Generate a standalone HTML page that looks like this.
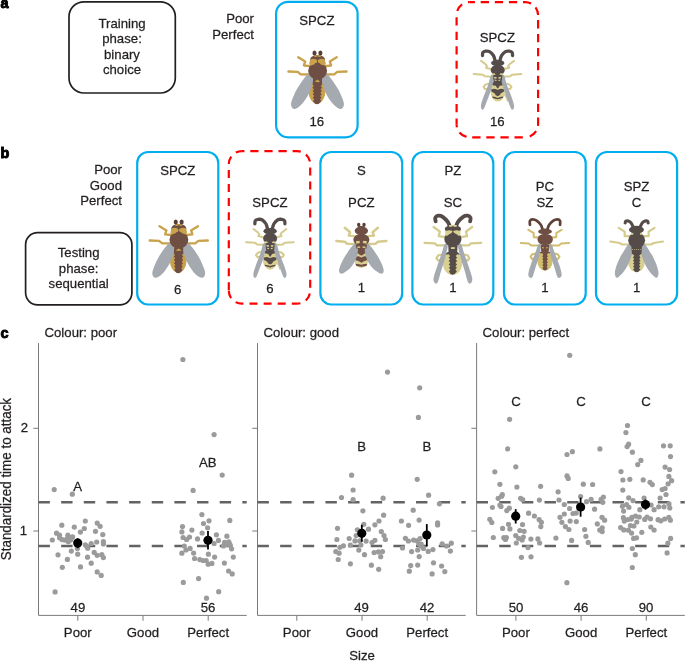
<!DOCTYPE html>
<html><head><meta charset="utf-8"><style>
html,body{margin:0;padding:0;background:#fff;}
svg{display:block;font-family:"Liberation Sans", sans-serif;will-change:transform;}
</style></head><body>
<svg width="685" height="661" viewBox="0 0 685 661">
<text x="0" y="0" transform="translate(0.6,8) scale(1,1.035)" font-size="14.5" text-anchor="start" font-weight="bold" fill="#000" stroke="#000" stroke-width="0.9">a</text>
<text x="0" y="0" transform="translate(0.6,158) scale(1,1.035)" font-size="14.5" text-anchor="start" font-weight="bold" fill="#000" stroke="#000" stroke-width="0.9">b</text>
<text x="0" y="0" transform="translate(0.6,337.8) scale(1,1.035)" font-size="14.5" text-anchor="start" font-weight="bold" fill="#000" stroke="#000" stroke-width="0.9">c</text>
<rect x="69.0" y="1.8" width="106.30000000000001" height="91.2" rx="15" ry="15" fill="none" stroke="#231f20" stroke-width="1.7"/>
<text x="0" y="0" transform="translate(122,27.7) scale(1,1.035)" font-size="13.2" text-anchor="middle" font-weight="normal" fill="#231f20" stroke="#231f20" stroke-width="0.25">Training</text>
<text x="0" y="0" transform="translate(122,43.2) scale(1,1.035)" font-size="13.2" text-anchor="middle" font-weight="normal" fill="#231f20" stroke="#231f20" stroke-width="0.25">phase:</text>
<text x="0" y="0" transform="translate(122,58.7) scale(1,1.035)" font-size="13.2" text-anchor="middle" font-weight="normal" fill="#231f20" stroke="#231f20" stroke-width="0.25">binary</text>
<text x="0" y="0" transform="translate(122,74.2) scale(1,1.035)" font-size="13.2" text-anchor="middle" font-weight="normal" fill="#231f20" stroke="#231f20" stroke-width="0.25">choice</text>
<text x="0" y="0" transform="translate(254,22.7) scale(1,1.035)" font-size="13.2" text-anchor="end" font-weight="normal" fill="#231f20" stroke="#231f20" stroke-width="0.25">Poor</text>
<text x="0" y="0" transform="translate(254,38.6) scale(1,1.035)" font-size="13.2" text-anchor="end" font-weight="normal" fill="#231f20" stroke="#231f20" stroke-width="0.25">Perfect</text>
<rect x="276.1" y="1.8" width="81.5" height="135.5" rx="12" ry="12" fill="none" stroke="#00aeef" stroke-width="2.2"/>
<text x="0" y="0" transform="translate(316.85,24.5) scale(1,1.035)" font-size="13.2" text-anchor="middle" font-weight="normal" fill="#231f20" stroke="#231f20" stroke-width="0.25">SPCZ</text>
<text x="0" y="0" transform="translate(316.85,125.9) scale(1,1.035)" font-size="13.2" text-anchor="middle" font-weight="normal" fill="#231f20" stroke="#231f20" stroke-width="0.25">16</text>
<path d="M 469.6,2.1 L 525.1,2.1 A 13,13 0 0 1 538.1,15.1" fill="none" stroke="#ff0000" stroke-width="2.2" stroke-dasharray="8.3 5.8" stroke-dashoffset="3.0"/>
<path d="M 538.1,15.1 L 538.1,124.30000000000001 A 13,13 0 0 1 525.1,137.3" fill="none" stroke="#ff0000" stroke-width="2.2" stroke-dasharray="8.3 5.63" stroke-dashoffset="8.93"/>
<path d="M 525.1,137.3 L 469.6,137.3 A 13,13 0 0 1 456.6,124.30000000000001" fill="none" stroke="#ff0000" stroke-width="2.2" stroke-dasharray="8.3 5.8" stroke-dashoffset="11.8"/>
<path d="M 456.6,124.30000000000001 L 456.6,15.1 A 13,13 0 0 1 469.6,2.1" fill="none" stroke="#ff0000" stroke-width="2.2" stroke-dasharray="8.2 6.28" stroke-dashoffset="2.48"/>
<text x="0" y="0" transform="translate(497.35,41.5) scale(1,1.035)" font-size="13.2" text-anchor="middle" font-weight="normal" fill="#231f20" stroke="#231f20" stroke-width="0.25">SPCZ</text>
<text x="0" y="0" transform="translate(497.35,125.9) scale(1,1.035)" font-size="13.2" text-anchor="middle" font-weight="normal" fill="#231f20" stroke="#231f20" stroke-width="0.25">16</text>
<text x="0" y="0" transform="translate(122,173.7) scale(1,1.035)" font-size="13.2" text-anchor="end" font-weight="normal" fill="#231f20" stroke="#231f20" stroke-width="0.25">Poor</text>
<text x="0" y="0" transform="translate(122,189.5) scale(1,1.035)" font-size="13.2" text-anchor="end" font-weight="normal" fill="#231f20" stroke="#231f20" stroke-width="0.25">Good</text>
<text x="0" y="0" transform="translate(122,205) scale(1,1.035)" font-size="13.2" text-anchor="end" font-weight="normal" fill="#231f20" stroke="#231f20" stroke-width="0.25">Perfect</text>
<rect x="25.6" y="232.7" width="106.30000000000001" height="72.10000000000002" rx="12" ry="12" fill="none" stroke="#231f20" stroke-width="1.7"/>
<text x="0" y="0" transform="translate(78.6,257.2) scale(1,1.035)" font-size="13.2" text-anchor="middle" font-weight="normal" fill="#231f20" stroke="#231f20" stroke-width="0.25">Testing</text>
<text x="0" y="0" transform="translate(78.6,272.55) scale(1,1.035)" font-size="13.2" text-anchor="middle" font-weight="normal" fill="#231f20" stroke="#231f20" stroke-width="0.25">phase:</text>
<text x="0" y="0" transform="translate(78.6,287.9) scale(1,1.035)" font-size="13.2" text-anchor="middle" font-weight="normal" fill="#231f20" stroke="#231f20" stroke-width="0.25">sequential</text>
<rect x="137.2" y="152.0" width="81.10000000000002" height="152.5" rx="11" ry="11" fill="none" stroke="#00aeef" stroke-width="2.2"/>
<text x="0" y="0" transform="translate(177.75,174.8) scale(1,1.035)" font-size="13.2" text-anchor="middle" font-weight="normal" fill="#231f20" stroke="#231f20" stroke-width="0.25">SPCZ</text>
<text x="0" y="0" transform="translate(177.75,293.5) scale(1,1.035)" font-size="13.2" text-anchor="middle" font-weight="normal" fill="#231f20" stroke="#231f20" stroke-width="0.25">6</text>
<path d="M 241.8,151.1 L 297.2,151.1 A 13,13 0 0 1 310.2,164.1" fill="none" stroke="#ff0000" stroke-width="2.2" stroke-dasharray="8.2 5.9" stroke-dashoffset="5.6"/>
<path d="M 310.2,164.1 L 310.2,290.7 A 13,13 0 0 1 297.2,303.7" fill="none" stroke="#ff0000" stroke-width="2.2" stroke-dasharray="8.0 6.03" stroke-dashoffset="10.73"/>
<path d="M 297.2,303.7 L 241.8,303.7 A 13,13 0 0 1 228.8,290.7" fill="none" stroke="#ff0000" stroke-width="2.2" stroke-dasharray="8.0 6.1" stroke-dashoffset="2.6"/>
<path d="M 228.8,290.7 L 228.8,164.1 A 13,13 0 0 1 241.8,151.1" fill="none" stroke="#ff0000" stroke-width="2.2" stroke-dasharray="8.0 6.03" stroke-dashoffset="13.63"/>
<text x="0" y="0" transform="translate(269.9,207.4) scale(1,1.035)" font-size="13.2" text-anchor="middle" font-weight="normal" fill="#231f20" stroke="#231f20" stroke-width="0.25">SPCZ</text>
<text x="0" y="0" transform="translate(269.9,292.5) scale(1,1.035)" font-size="13.2" text-anchor="middle" font-weight="normal" fill="#231f20" stroke="#231f20" stroke-width="0.25">6</text>
<rect x="320.4" y="152.0" width="81.80000000000001" height="152.5" rx="11" ry="11" fill="none" stroke="#00aeef" stroke-width="2.2"/>
<text x="0" y="0" transform="translate(361.29999999999995,174.8) scale(1,1.035)" font-size="13.2" text-anchor="middle" font-weight="normal" fill="#231f20" stroke="#231f20" stroke-width="0.25">S</text>
<text x="0" y="0" transform="translate(361.29999999999995,207.4) scale(1,1.035)" font-size="13.2" text-anchor="middle" font-weight="normal" fill="#231f20" stroke="#231f20" stroke-width="0.25">PCZ</text>
<text x="0" y="0" transform="translate(361.29999999999995,292.0) scale(1,1.035)" font-size="13.2" text-anchor="middle" font-weight="normal" fill="#231f20" stroke="#231f20" stroke-width="0.25">1</text>
<rect x="412.4" y="152.0" width="80.90000000000003" height="152.5" rx="11" ry="11" fill="none" stroke="#00aeef" stroke-width="2.2"/>
<text x="0" y="0" transform="translate(452.85,174.8) scale(1,1.035)" font-size="13.2" text-anchor="middle" font-weight="normal" fill="#231f20" stroke="#231f20" stroke-width="0.25">PZ</text>
<text x="0" y="0" transform="translate(452.85,207.4) scale(1,1.035)" font-size="13.2" text-anchor="middle" font-weight="normal" fill="#231f20" stroke="#231f20" stroke-width="0.25">SC</text>
<text x="0" y="0" transform="translate(452.85,292.0) scale(1,1.035)" font-size="13.2" text-anchor="middle" font-weight="normal" fill="#231f20" stroke="#231f20" stroke-width="0.25">1</text>
<rect x="504.0" y="152.0" width="81.70000000000005" height="152.5" rx="11" ry="11" fill="none" stroke="#00aeef" stroke-width="2.2"/>
<text x="0" y="0" transform="translate(544.85,191.1) scale(1,1.035)" font-size="13.2" text-anchor="middle" font-weight="normal" fill="#231f20" stroke="#231f20" stroke-width="0.25">PC</text>
<text x="0" y="0" transform="translate(544.85,207.4) scale(1,1.035)" font-size="13.2" text-anchor="middle" font-weight="normal" fill="#231f20" stroke="#231f20" stroke-width="0.25">SZ</text>
<text x="0" y="0" transform="translate(544.85,292.0) scale(1,1.035)" font-size="13.2" text-anchor="middle" font-weight="normal" fill="#231f20" stroke="#231f20" stroke-width="0.25">1</text>
<rect x="596.0" y="152.0" width="81.10000000000002" height="152.5" rx="11" ry="11" fill="none" stroke="#00aeef" stroke-width="2.2"/>
<text x="0" y="0" transform="translate(636.55,191.1) scale(1,1.035)" font-size="13.2" text-anchor="middle" font-weight="normal" fill="#231f20" stroke="#231f20" stroke-width="0.25">SPZ</text>
<text x="0" y="0" transform="translate(636.55,207.4) scale(1,1.035)" font-size="13.2" text-anchor="middle" font-weight="normal" fill="#231f20" stroke="#231f20" stroke-width="0.25">C</text>
<text x="0" y="0" transform="translate(636.55,292.0) scale(1,1.035)" font-size="13.2" text-anchor="middle" font-weight="normal" fill="#231f20" stroke="#231f20" stroke-width="0.25">1</text>
<line x1="38.5" y1="343" x2="38.5" y2="615.4" stroke="#7a7a7a" stroke-width="1"/>
<line x1="38.5" y1="615.4" x2="246.7" y2="615.4" stroke="#7a7a7a" stroke-width="1"/>
<line x1="33.3" y1="531.0" x2="38.5" y2="531.0" stroke="#7a7a7a" stroke-width="1"/>
<line x1="33.3" y1="428.3" x2="38.5" y2="428.3" stroke="#7a7a7a" stroke-width="1"/>
<line x1="77.8" y1="615.4" x2="77.8" y2="620.7" stroke="#7a7a7a" stroke-width="1"/>
<text x="0" y="0" transform="translate(77.8,636.6) scale(1,1.035)" font-size="13.2" text-anchor="middle" font-weight="normal" fill="#231f20" stroke="#231f20" stroke-width="0.25">Poor</text>
<line x1="143.0" y1="615.4" x2="143.0" y2="620.7" stroke="#7a7a7a" stroke-width="1"/>
<text x="0" y="0" transform="translate(143.0,636.6) scale(1,1.035)" font-size="13.2" text-anchor="middle" font-weight="normal" fill="#231f20" stroke="#231f20" stroke-width="0.25">Good</text>
<line x1="208.2" y1="615.4" x2="208.2" y2="620.7" stroke="#7a7a7a" stroke-width="1"/>
<text x="0" y="0" transform="translate(208.2,636.6) scale(1,1.035)" font-size="13.2" text-anchor="middle" font-weight="normal" fill="#231f20" stroke="#231f20" stroke-width="0.25">Perfect</text>
<text x="0" y="0" transform="translate(44.5,336.5) scale(1,1.035)" font-size="13.2" text-anchor="start" font-weight="normal" fill="#231f20" stroke="#231f20" stroke-width="0.25">Colour: poor</text>
<line x1="38.5" y1="502.2" x2="246.7" y2="502.2" stroke="#636363" stroke-width="2.4" stroke-dasharray="11.4 11.25"/>
<line x1="38.5" y1="546.0" x2="246.7" y2="546.0" stroke="#636363" stroke-width="2.4" stroke-dasharray="11.4 11.25"/>
<line x1="257.5" y1="343" x2="257.5" y2="615.4" stroke="#7a7a7a" stroke-width="1"/>
<line x1="257.5" y1="615.4" x2="465.7" y2="615.4" stroke="#7a7a7a" stroke-width="1"/>
<line x1="252.3" y1="531.0" x2="257.5" y2="531.0" stroke="#7a7a7a" stroke-width="1"/>
<line x1="252.3" y1="428.3" x2="257.5" y2="428.3" stroke="#7a7a7a" stroke-width="1"/>
<line x1="296.8" y1="615.4" x2="296.8" y2="620.7" stroke="#7a7a7a" stroke-width="1"/>
<text x="0" y="0" transform="translate(296.8,636.6) scale(1,1.035)" font-size="13.2" text-anchor="middle" font-weight="normal" fill="#231f20" stroke="#231f20" stroke-width="0.25">Poor</text>
<line x1="362.0" y1="615.4" x2="362.0" y2="620.7" stroke="#7a7a7a" stroke-width="1"/>
<text x="0" y="0" transform="translate(362.0,636.6) scale(1,1.035)" font-size="13.2" text-anchor="middle" font-weight="normal" fill="#231f20" stroke="#231f20" stroke-width="0.25">Good</text>
<line x1="427.20000000000005" y1="615.4" x2="427.20000000000005" y2="620.7" stroke="#7a7a7a" stroke-width="1"/>
<text x="0" y="0" transform="translate(427.20000000000005,636.6) scale(1,1.035)" font-size="13.2" text-anchor="middle" font-weight="normal" fill="#231f20" stroke="#231f20" stroke-width="0.25">Perfect</text>
<text x="0" y="0" transform="translate(263.5,336.5) scale(1,1.035)" font-size="13.2" text-anchor="start" font-weight="normal" fill="#231f20" stroke="#231f20" stroke-width="0.25">Colour: good</text>
<line x1="257.5" y1="502.2" x2="465.7" y2="502.2" stroke="#636363" stroke-width="2.4" stroke-dasharray="11.4 11.25"/>
<line x1="257.5" y1="546.0" x2="465.7" y2="546.0" stroke="#636363" stroke-width="2.4" stroke-dasharray="11.4 11.25"/>
<line x1="476.6" y1="343" x2="476.6" y2="615.4" stroke="#7a7a7a" stroke-width="1"/>
<line x1="476.6" y1="615.4" x2="684.8" y2="615.4" stroke="#7a7a7a" stroke-width="1"/>
<line x1="471.40000000000003" y1="531.0" x2="476.6" y2="531.0" stroke="#7a7a7a" stroke-width="1"/>
<line x1="471.40000000000003" y1="428.3" x2="476.6" y2="428.3" stroke="#7a7a7a" stroke-width="1"/>
<line x1="515.9" y1="615.4" x2="515.9" y2="620.7" stroke="#7a7a7a" stroke-width="1"/>
<text x="0" y="0" transform="translate(515.9,636.6) scale(1,1.035)" font-size="13.2" text-anchor="middle" font-weight="normal" fill="#231f20" stroke="#231f20" stroke-width="0.25">Poor</text>
<line x1="581.1" y1="615.4" x2="581.1" y2="620.7" stroke="#7a7a7a" stroke-width="1"/>
<text x="0" y="0" transform="translate(581.1,636.6) scale(1,1.035)" font-size="13.2" text-anchor="middle" font-weight="normal" fill="#231f20" stroke="#231f20" stroke-width="0.25">Good</text>
<line x1="646.3" y1="615.4" x2="646.3" y2="620.7" stroke="#7a7a7a" stroke-width="1"/>
<text x="0" y="0" transform="translate(646.3,636.6) scale(1,1.035)" font-size="13.2" text-anchor="middle" font-weight="normal" fill="#231f20" stroke="#231f20" stroke-width="0.25">Perfect</text>
<text x="0" y="0" transform="translate(482.6,336.5) scale(1,1.035)" font-size="13.2" text-anchor="start" font-weight="normal" fill="#231f20" stroke="#231f20" stroke-width="0.25">Colour: perfect</text>
<line x1="476.6" y1="502.2" x2="684.8" y2="502.2" stroke="#636363" stroke-width="2.4" stroke-dasharray="11.4 11.25"/>
<line x1="476.6" y1="546.0" x2="684.8" y2="546.0" stroke="#636363" stroke-width="2.4" stroke-dasharray="11.4 11.25"/>
<text x="0" y="0" transform="translate(24.3,431.9) scale(1,1.035)" font-size="13.2" text-anchor="middle" font-weight="normal" fill="#231f20" stroke="#231f20" stroke-width="0.25">2</text>
<text x="0" y="0" transform="translate(23.5,534.8) scale(1,1.035)" font-size="13.2" text-anchor="middle" font-weight="normal" fill="#231f20" stroke="#231f20" stroke-width="0.25">1</text>
<text x="0" y="0" text-anchor="middle" fill="#231f20" stroke="#231f20" stroke-width="0.25" transform="translate(11.1,479.1) rotate(-90) scale(1.0,1.035)" font-size="13.4">Standardized time to attack</text>
<text x="0" y="0" transform="translate(362,659.9) scale(1,1.035)" font-size="13.2" text-anchor="middle" font-weight="normal" fill="#231f20" stroke="#231f20" stroke-width="0.25">Size</text>
<circle cx="54.2" cy="489.6" r="2.6" fill="#9b9b9b"/>
<circle cx="72.3" cy="494.2" r="2.6" fill="#9b9b9b"/>
<circle cx="85.3" cy="521.0" r="2.6" fill="#9b9b9b"/>
<circle cx="61.8" cy="525.2" r="2.6" fill="#9b9b9b"/>
<circle cx="74.3" cy="527.1" r="2.6" fill="#9b9b9b"/>
<circle cx="97.2" cy="523.1" r="2.6" fill="#9b9b9b"/>
<circle cx="100.1" cy="526.3" r="2.6" fill="#9b9b9b"/>
<circle cx="84.3" cy="528.5" r="2.6" fill="#9b9b9b"/>
<circle cx="80.4" cy="532.1" r="2.6" fill="#9b9b9b"/>
<circle cx="95.5" cy="531.3" r="2.6" fill="#9b9b9b"/>
<circle cx="56.5" cy="533.2" r="2.6" fill="#9b9b9b"/>
<circle cx="102.8" cy="534.6" r="2.6" fill="#9b9b9b"/>
<circle cx="59.5" cy="535.2" r="2.6" fill="#9b9b9b"/>
<circle cx="67.9" cy="535.2" r="2.6" fill="#9b9b9b"/>
<circle cx="72.6" cy="536.9" r="2.6" fill="#9b9b9b"/>
<circle cx="69.6" cy="537.4" r="2.6" fill="#9b9b9b"/>
<circle cx="52.3" cy="540.0" r="2.6" fill="#9b9b9b"/>
<circle cx="62.0" cy="539.6" r="2.6" fill="#9b9b9b"/>
<circle cx="64.7" cy="540.1" r="2.6" fill="#9b9b9b"/>
<circle cx="68.3" cy="541.7" r="2.6" fill="#9b9b9b"/>
<circle cx="70.8" cy="539.8" r="2.6" fill="#9b9b9b"/>
<circle cx="96.7" cy="542.0" r="2.6" fill="#9b9b9b"/>
<circle cx="103.4" cy="541.5" r="2.6" fill="#9b9b9b"/>
<circle cx="103.4" cy="544.0" r="2.6" fill="#9b9b9b"/>
<circle cx="91.2" cy="543.5" r="2.6" fill="#9b9b9b"/>
<circle cx="85.3" cy="544.8" r="2.6" fill="#9b9b9b"/>
<circle cx="87.7" cy="548.2" r="2.6" fill="#9b9b9b"/>
<circle cx="77.4" cy="548.4" r="2.6" fill="#9b9b9b"/>
<circle cx="71.3" cy="551.1" r="2.6" fill="#9b9b9b"/>
<circle cx="94.2" cy="552.4" r="2.6" fill="#9b9b9b"/>
<circle cx="58.0" cy="554.8" r="2.6" fill="#9b9b9b"/>
<circle cx="77.7" cy="554.2" r="2.6" fill="#9b9b9b"/>
<circle cx="97.2" cy="555.3" r="2.6" fill="#9b9b9b"/>
<circle cx="101.8" cy="554.7" r="2.6" fill="#9b9b9b"/>
<circle cx="103.4" cy="557.6" r="2.6" fill="#9b9b9b"/>
<circle cx="87.5" cy="557.2" r="2.6" fill="#9b9b9b"/>
<circle cx="67.4" cy="559.4" r="2.6" fill="#9b9b9b"/>
<circle cx="91.2" cy="563.2" r="2.6" fill="#9b9b9b"/>
<circle cx="62.3" cy="567.3" r="2.6" fill="#9b9b9b"/>
<circle cx="80.5" cy="566.9" r="2.6" fill="#9b9b9b"/>
<circle cx="97.2" cy="571.9" r="2.6" fill="#9b9b9b"/>
<circle cx="101.2" cy="575.4" r="2.6" fill="#9b9b9b"/>
<circle cx="59.6" cy="537.8" r="2.6" fill="#9b9b9b"/>
<circle cx="67.5" cy="538.4" r="2.6" fill="#9b9b9b"/>
<circle cx="86.8" cy="546.3" r="2.6" fill="#9b9b9b"/>
<circle cx="55.1" cy="591.9" r="2.6" fill="#9b9b9b"/>
<circle cx="182.9" cy="359.5" r="2.6" fill="#9b9b9b"/>
<circle cx="214.1" cy="434.6" r="2.6" fill="#9b9b9b"/>
<circle cx="222.2" cy="475.1" r="2.6" fill="#9b9b9b"/>
<circle cx="193.1" cy="490.4" r="2.6" fill="#9b9b9b"/>
<circle cx="201.9" cy="514.6" r="2.6" fill="#9b9b9b"/>
<circle cx="209.0" cy="520.8" r="2.6" fill="#9b9b9b"/>
<circle cx="203.5" cy="523.5" r="2.6" fill="#9b9b9b"/>
<circle cx="229.8" cy="520.4" r="2.6" fill="#9b9b9b"/>
<circle cx="182.5" cy="526.6" r="2.6" fill="#9b9b9b"/>
<circle cx="207.6" cy="527.8" r="2.6" fill="#9b9b9b"/>
<circle cx="191.9" cy="530.1" r="2.6" fill="#9b9b9b"/>
<circle cx="181.9" cy="531.9" r="2.6" fill="#9b9b9b"/>
<circle cx="202.1" cy="533.0" r="2.6" fill="#9b9b9b"/>
<circle cx="216.4" cy="534.8" r="2.6" fill="#9b9b9b"/>
<circle cx="226.9" cy="536.2" r="2.6" fill="#9b9b9b"/>
<circle cx="183.1" cy="537.5" r="2.6" fill="#9b9b9b"/>
<circle cx="189.5" cy="537.1" r="2.6" fill="#9b9b9b"/>
<circle cx="186.6" cy="539.5" r="2.6" fill="#9b9b9b"/>
<circle cx="197.5" cy="538.9" r="2.6" fill="#9b9b9b"/>
<circle cx="218.5" cy="540.4" r="2.6" fill="#9b9b9b"/>
<circle cx="214.1" cy="543.5" r="2.6" fill="#9b9b9b"/>
<circle cx="224.6" cy="542.4" r="2.6" fill="#9b9b9b"/>
<circle cx="228.7" cy="541.8" r="2.6" fill="#9b9b9b"/>
<circle cx="230.4" cy="545.3" r="2.6" fill="#9b9b9b"/>
<circle cx="223.4" cy="545.9" r="2.6" fill="#9b9b9b"/>
<circle cx="184.3" cy="546.1" r="2.6" fill="#9b9b9b"/>
<circle cx="190.1" cy="548.4" r="2.6" fill="#9b9b9b"/>
<circle cx="186.0" cy="550.0" r="2.6" fill="#9b9b9b"/>
<circle cx="231.6" cy="548.8" r="2.6" fill="#9b9b9b"/>
<circle cx="181.9" cy="553.2" r="2.6" fill="#9b9b9b"/>
<circle cx="193.6" cy="553.1" r="2.6" fill="#9b9b9b"/>
<circle cx="208.4" cy="554.2" r="2.6" fill="#9b9b9b"/>
<circle cx="214.6" cy="557.1" r="2.6" fill="#9b9b9b"/>
<circle cx="233.3" cy="557.1" r="2.6" fill="#9b9b9b"/>
<circle cx="194.6" cy="558.5" r="2.6" fill="#9b9b9b"/>
<circle cx="199.8" cy="559.6" r="2.6" fill="#9b9b9b"/>
<circle cx="206.2" cy="560.5" r="2.6" fill="#9b9b9b"/>
<circle cx="211.9" cy="563.4" r="2.6" fill="#9b9b9b"/>
<circle cx="224.4" cy="563.1" r="2.6" fill="#9b9b9b"/>
<circle cx="203.0" cy="560.5" r="2.6" fill="#9b9b9b"/>
<circle cx="208.2" cy="564.2" r="2.6" fill="#9b9b9b"/>
<circle cx="228.6" cy="571.0" r="2.6" fill="#9b9b9b"/>
<circle cx="232.2" cy="573.9" r="2.6" fill="#9b9b9b"/>
<circle cx="198.6" cy="578.6" r="2.6" fill="#9b9b9b"/>
<circle cx="183.3" cy="582.4" r="2.6" fill="#9b9b9b"/>
<circle cx="218.7" cy="591.7" r="2.6" fill="#9b9b9b"/>
<circle cx="206.5" cy="598.2" r="2.6" fill="#9b9b9b"/>
<circle cx="226.0" cy="544.4" r="2.6" fill="#9b9b9b"/>
<circle cx="229.4" cy="543.6" r="2.6" fill="#9b9b9b"/>
<circle cx="387.5" cy="372.1" r="2.6" fill="#9b9b9b"/>
<circle cx="351.6" cy="475.2" r="2.6" fill="#9b9b9b"/>
<circle cx="353.1" cy="490.0" r="2.6" fill="#9b9b9b"/>
<circle cx="341.5" cy="497.5" r="2.6" fill="#9b9b9b"/>
<circle cx="353.1" cy="499.7" r="2.6" fill="#9b9b9b"/>
<circle cx="383.1" cy="498.2" r="2.6" fill="#9b9b9b"/>
<circle cx="362.9" cy="510.8" r="2.6" fill="#9b9b9b"/>
<circle cx="383.6" cy="515.2" r="2.6" fill="#9b9b9b"/>
<circle cx="379.0" cy="521.0" r="2.6" fill="#9b9b9b"/>
<circle cx="374.9" cy="524.8" r="2.6" fill="#9b9b9b"/>
<circle cx="337.5" cy="528.3" r="2.6" fill="#9b9b9b"/>
<circle cx="363.8" cy="524.3" r="2.6" fill="#9b9b9b"/>
<circle cx="357.4" cy="529.8" r="2.6" fill="#9b9b9b"/>
<circle cx="368.5" cy="529.2" r="2.6" fill="#9b9b9b"/>
<circle cx="381.3" cy="531.5" r="2.6" fill="#9b9b9b"/>
<circle cx="384.0" cy="535.6" r="2.6" fill="#9b9b9b"/>
<circle cx="385.4" cy="539.5" r="2.6" fill="#9b9b9b"/>
<circle cx="336.9" cy="539.5" r="2.6" fill="#9b9b9b"/>
<circle cx="349.2" cy="538.5" r="2.6" fill="#9b9b9b"/>
<circle cx="356.2" cy="535.6" r="2.6" fill="#9b9b9b"/>
<circle cx="355.0" cy="540.9" r="2.6" fill="#9b9b9b"/>
<circle cx="359.7" cy="540.9" r="2.6" fill="#9b9b9b"/>
<circle cx="366.1" cy="541.1" r="2.6" fill="#9b9b9b"/>
<circle cx="374.9" cy="540.3" r="2.6" fill="#9b9b9b"/>
<circle cx="372.0" cy="542.6" r="2.6" fill="#9b9b9b"/>
<circle cx="350.4" cy="545.0" r="2.6" fill="#9b9b9b"/>
<circle cx="360.9" cy="545.0" r="2.6" fill="#9b9b9b"/>
<circle cx="343.4" cy="545.8" r="2.6" fill="#9b9b9b"/>
<circle cx="339.9" cy="547.3" r="2.6" fill="#9b9b9b"/>
<circle cx="358.8" cy="550.1" r="2.6" fill="#9b9b9b"/>
<circle cx="335.8" cy="551.6" r="2.6" fill="#9b9b9b"/>
<circle cx="339.1" cy="553.2" r="2.6" fill="#9b9b9b"/>
<circle cx="364.5" cy="554.7" r="2.6" fill="#9b9b9b"/>
<circle cx="374.1" cy="552.6" r="2.6" fill="#9b9b9b"/>
<circle cx="378.4" cy="551.9" r="2.6" fill="#9b9b9b"/>
<circle cx="382.5" cy="551.6" r="2.6" fill="#9b9b9b"/>
<circle cx="380.7" cy="556.7" r="2.6" fill="#9b9b9b"/>
<circle cx="338.2" cy="559.5" r="2.6" fill="#9b9b9b"/>
<circle cx="350.4" cy="563.8" r="2.6" fill="#9b9b9b"/>
<circle cx="371.4" cy="565.2" r="2.6" fill="#9b9b9b"/>
<circle cx="378.7" cy="569.3" r="2.6" fill="#9b9b9b"/>
<circle cx="419.7" cy="387.8" r="2.6" fill="#9b9b9b"/>
<circle cx="418.4" cy="417.4" r="2.6" fill="#9b9b9b"/>
<circle cx="417.2" cy="479.3" r="2.6" fill="#9b9b9b"/>
<circle cx="428.6" cy="495.2" r="2.6" fill="#9b9b9b"/>
<circle cx="439.4" cy="503.8" r="2.6" fill="#9b9b9b"/>
<circle cx="413.2" cy="510.2" r="2.6" fill="#9b9b9b"/>
<circle cx="401.4" cy="521.0" r="2.6" fill="#9b9b9b"/>
<circle cx="419.1" cy="520.1" r="2.6" fill="#9b9b9b"/>
<circle cx="408.6" cy="525.3" r="2.6" fill="#9b9b9b"/>
<circle cx="437.6" cy="522.9" r="2.6" fill="#9b9b9b"/>
<circle cx="437.6" cy="525.0" r="2.6" fill="#9b9b9b"/>
<circle cx="405.4" cy="538.3" r="2.6" fill="#9b9b9b"/>
<circle cx="408.4" cy="541.0" r="2.6" fill="#9b9b9b"/>
<circle cx="413.6" cy="540.1" r="2.6" fill="#9b9b9b"/>
<circle cx="417.1" cy="540.8" r="2.6" fill="#9b9b9b"/>
<circle cx="420.0" cy="538.5" r="2.6" fill="#9b9b9b"/>
<circle cx="418.9" cy="543.8" r="2.6" fill="#9b9b9b"/>
<circle cx="421.2" cy="544.0" r="2.6" fill="#9b9b9b"/>
<circle cx="442.2" cy="543.8" r="2.6" fill="#9b9b9b"/>
<circle cx="446.6" cy="546.0" r="2.6" fill="#9b9b9b"/>
<circle cx="451.3" cy="543.2" r="2.6" fill="#9b9b9b"/>
<circle cx="402.5" cy="548.0" r="2.6" fill="#9b9b9b"/>
<circle cx="421.2" cy="546.1" r="2.6" fill="#9b9b9b"/>
<circle cx="423.5" cy="548.4" r="2.6" fill="#9b9b9b"/>
<circle cx="417.7" cy="550.0" r="2.6" fill="#9b9b9b"/>
<circle cx="428.2" cy="551.4" r="2.6" fill="#9b9b9b"/>
<circle cx="432.9" cy="549.6" r="2.6" fill="#9b9b9b"/>
<circle cx="411.6" cy="551.6" r="2.6" fill="#9b9b9b"/>
<circle cx="450.4" cy="551.1" r="2.6" fill="#9b9b9b"/>
<circle cx="419.2" cy="556.6" r="2.6" fill="#9b9b9b"/>
<circle cx="433.5" cy="562.8" r="2.6" fill="#9b9b9b"/>
<circle cx="410.7" cy="565.6" r="2.6" fill="#9b9b9b"/>
<circle cx="417.7" cy="565.1" r="2.6" fill="#9b9b9b"/>
<circle cx="441.6" cy="566.0" r="2.6" fill="#9b9b9b"/>
<circle cx="409.3" cy="571.2" r="2.6" fill="#9b9b9b"/>
<circle cx="444.8" cy="571.6" r="2.6" fill="#9b9b9b"/>
<circle cx="432.1" cy="573.9" r="2.6" fill="#9b9b9b"/>
<circle cx="509.6" cy="419.3" r="2.6" fill="#9b9b9b"/>
<circle cx="507.7" cy="448.9" r="2.6" fill="#9b9b9b"/>
<circle cx="515.8" cy="466.8" r="2.6" fill="#9b9b9b"/>
<circle cx="494.8" cy="471.8" r="2.6" fill="#9b9b9b"/>
<circle cx="499.9" cy="484.3" r="2.6" fill="#9b9b9b"/>
<circle cx="516.9" cy="487.1" r="2.6" fill="#9b9b9b"/>
<circle cx="540.6" cy="486.3" r="2.6" fill="#9b9b9b"/>
<circle cx="502.3" cy="494.5" r="2.6" fill="#9b9b9b"/>
<circle cx="501.7" cy="496.2" r="2.6" fill="#9b9b9b"/>
<circle cx="498.2" cy="498.3" r="2.6" fill="#9b9b9b"/>
<circle cx="520.6" cy="498.3" r="2.6" fill="#9b9b9b"/>
<circle cx="522.7" cy="499.7" r="2.6" fill="#9b9b9b"/>
<circle cx="539.4" cy="500.1" r="2.6" fill="#9b9b9b"/>
<circle cx="492.4" cy="507.5" r="2.6" fill="#9b9b9b"/>
<circle cx="499.9" cy="505.0" r="2.6" fill="#9b9b9b"/>
<circle cx="501.0" cy="506.5" r="2.6" fill="#9b9b9b"/>
<circle cx="509.3" cy="508.2" r="2.6" fill="#9b9b9b"/>
<circle cx="506.8" cy="510.6" r="2.6" fill="#9b9b9b"/>
<circle cx="528.6" cy="513.2" r="2.6" fill="#9b9b9b"/>
<circle cx="534.4" cy="516.0" r="2.6" fill="#9b9b9b"/>
<circle cx="539.1" cy="519.6" r="2.6" fill="#9b9b9b"/>
<circle cx="489.8" cy="519.3" r="2.6" fill="#9b9b9b"/>
<circle cx="491.8" cy="522.5" r="2.6" fill="#9b9b9b"/>
<circle cx="541.4" cy="522.3" r="2.6" fill="#9b9b9b"/>
<circle cx="540.8" cy="526.6" r="2.6" fill="#9b9b9b"/>
<circle cx="508.5" cy="524.3" r="2.6" fill="#9b9b9b"/>
<circle cx="522.5" cy="524.6" r="2.6" fill="#9b9b9b"/>
<circle cx="502.6" cy="528.4" r="2.6" fill="#9b9b9b"/>
<circle cx="509.9" cy="528.9" r="2.6" fill="#9b9b9b"/>
<circle cx="519.8" cy="530.5" r="2.6" fill="#9b9b9b"/>
<circle cx="524.1" cy="531.3" r="2.6" fill="#9b9b9b"/>
<circle cx="493.3" cy="537.5" r="2.6" fill="#9b9b9b"/>
<circle cx="503.8" cy="537.7" r="2.6" fill="#9b9b9b"/>
<circle cx="506.4" cy="537.5" r="2.6" fill="#9b9b9b"/>
<circle cx="505.4" cy="539.5" r="2.6" fill="#9b9b9b"/>
<circle cx="515.7" cy="535.6" r="2.6" fill="#9b9b9b"/>
<circle cx="518.6" cy="538.3" r="2.6" fill="#9b9b9b"/>
<circle cx="523.3" cy="537.1" r="2.6" fill="#9b9b9b"/>
<circle cx="522.1" cy="540.0" r="2.6" fill="#9b9b9b"/>
<circle cx="530.9" cy="539.1" r="2.6" fill="#9b9b9b"/>
<circle cx="537.9" cy="538.9" r="2.6" fill="#9b9b9b"/>
<circle cx="539.6" cy="543.0" r="2.6" fill="#9b9b9b"/>
<circle cx="516.3" cy="543.0" r="2.6" fill="#9b9b9b"/>
<circle cx="528.0" cy="547.6" r="2.6" fill="#9b9b9b"/>
<circle cx="521.4" cy="557.3" r="2.6" fill="#9b9b9b"/>
<circle cx="531.0" cy="556.8" r="2.6" fill="#9b9b9b"/>
<circle cx="569.7" cy="355.3" r="2.6" fill="#9b9b9b"/>
<circle cx="567.0" cy="454.5" r="2.6" fill="#9b9b9b"/>
<circle cx="572.4" cy="451.7" r="2.6" fill="#9b9b9b"/>
<circle cx="599.9" cy="448.9" r="2.6" fill="#9b9b9b"/>
<circle cx="567.0" cy="475.9" r="2.6" fill="#9b9b9b"/>
<circle cx="568.2" cy="478.4" r="2.6" fill="#9b9b9b"/>
<circle cx="583.3" cy="484.2" r="2.6" fill="#9b9b9b"/>
<circle cx="592.6" cy="484.5" r="2.6" fill="#9b9b9b"/>
<circle cx="558.1" cy="491.8" r="2.6" fill="#9b9b9b"/>
<circle cx="580.6" cy="496.5" r="2.6" fill="#9b9b9b"/>
<circle cx="559.0" cy="500.0" r="2.6" fill="#9b9b9b"/>
<circle cx="564.3" cy="504.5" r="2.6" fill="#9b9b9b"/>
<circle cx="586.5" cy="501.7" r="2.6" fill="#9b9b9b"/>
<circle cx="591.1" cy="499.4" r="2.6" fill="#9b9b9b"/>
<circle cx="603.4" cy="497.0" r="2.6" fill="#9b9b9b"/>
<circle cx="601.1" cy="499.4" r="2.6" fill="#9b9b9b"/>
<circle cx="602.8" cy="502.3" r="2.6" fill="#9b9b9b"/>
<circle cx="569.6" cy="508.5" r="2.6" fill="#9b9b9b"/>
<circle cx="594.6" cy="509.2" r="2.6" fill="#9b9b9b"/>
<circle cx="564.3" cy="514.0" r="2.6" fill="#9b9b9b"/>
<circle cx="573.0" cy="513.5" r="2.6" fill="#9b9b9b"/>
<circle cx="576.2" cy="513.1" r="2.6" fill="#9b9b9b"/>
<circle cx="560.0" cy="517.3" r="2.6" fill="#9b9b9b"/>
<circle cx="561.9" cy="522.3" r="2.6" fill="#9b9b9b"/>
<circle cx="570.1" cy="521.1" r="2.6" fill="#9b9b9b"/>
<circle cx="576.3" cy="521.6" r="2.6" fill="#9b9b9b"/>
<circle cx="602.0" cy="517.3" r="2.6" fill="#9b9b9b"/>
<circle cx="604.6" cy="520.2" r="2.6" fill="#9b9b9b"/>
<circle cx="597.3" cy="523.9" r="2.6" fill="#9b9b9b"/>
<circle cx="565.4" cy="526.6" r="2.6" fill="#9b9b9b"/>
<circle cx="568.9" cy="529.5" r="2.6" fill="#9b9b9b"/>
<circle cx="584.6" cy="529.5" r="2.6" fill="#9b9b9b"/>
<circle cx="602.2" cy="527.8" r="2.6" fill="#9b9b9b"/>
<circle cx="599.7" cy="530.1" r="2.6" fill="#9b9b9b"/>
<circle cx="602.2" cy="531.6" r="2.6" fill="#9b9b9b"/>
<circle cx="585.9" cy="536.3" r="2.6" fill="#9b9b9b"/>
<circle cx="555.9" cy="538.1" r="2.6" fill="#9b9b9b"/>
<circle cx="571.6" cy="540.4" r="2.6" fill="#9b9b9b"/>
<circle cx="588.2" cy="542.4" r="2.6" fill="#9b9b9b"/>
<circle cx="566.9" cy="582.7" r="2.6" fill="#9b9b9b"/>
<circle cx="627.5" cy="425.5" r="2.6" fill="#9b9b9b"/>
<circle cx="625.9" cy="432.6" r="2.6" fill="#9b9b9b"/>
<circle cx="628.6" cy="444.2" r="2.6" fill="#9b9b9b"/>
<circle cx="627.1" cy="446.6" r="2.6" fill="#9b9b9b"/>
<circle cx="632.4" cy="452.2" r="2.6" fill="#9b9b9b"/>
<circle cx="663.5" cy="445.8" r="2.6" fill="#9b9b9b"/>
<circle cx="670.2" cy="445.8" r="2.6" fill="#9b9b9b"/>
<circle cx="670.5" cy="456.6" r="2.6" fill="#9b9b9b"/>
<circle cx="640.9" cy="460.4" r="2.6" fill="#9b9b9b"/>
<circle cx="637.7" cy="464.6" r="2.6" fill="#9b9b9b"/>
<circle cx="665.1" cy="467.1" r="2.6" fill="#9b9b9b"/>
<circle cx="669.6" cy="469.5" r="2.6" fill="#9b9b9b"/>
<circle cx="621.0" cy="471.6" r="2.6" fill="#9b9b9b"/>
<circle cx="668.9" cy="476.4" r="2.6" fill="#9b9b9b"/>
<circle cx="622.9" cy="480.0" r="2.6" fill="#9b9b9b"/>
<circle cx="629.8" cy="479.3" r="2.6" fill="#9b9b9b"/>
<circle cx="643.2" cy="479.9" r="2.6" fill="#9b9b9b"/>
<circle cx="650.0" cy="482.3" r="2.6" fill="#9b9b9b"/>
<circle cx="652.3" cy="484.6" r="2.6" fill="#9b9b9b"/>
<circle cx="671.6" cy="480.7" r="2.6" fill="#9b9b9b"/>
<circle cx="668.1" cy="483.8" r="2.6" fill="#9b9b9b"/>
<circle cx="622.8" cy="490.1" r="2.6" fill="#9b9b9b"/>
<circle cx="662.2" cy="489.6" r="2.6" fill="#9b9b9b"/>
<circle cx="665.1" cy="488.5" r="2.6" fill="#9b9b9b"/>
<circle cx="666.0" cy="494.5" r="2.6" fill="#9b9b9b"/>
<circle cx="628.7" cy="497.8" r="2.6" fill="#9b9b9b"/>
<circle cx="633.0" cy="500.6" r="2.6" fill="#9b9b9b"/>
<circle cx="644.1" cy="498.0" r="2.6" fill="#9b9b9b"/>
<circle cx="660.1" cy="498.0" r="2.6" fill="#9b9b9b"/>
<circle cx="622.4" cy="506.3" r="2.6" fill="#9b9b9b"/>
<circle cx="626.6" cy="504.5" r="2.6" fill="#9b9b9b"/>
<circle cx="628.9" cy="507.4" r="2.6" fill="#9b9b9b"/>
<circle cx="623.6" cy="511.1" r="2.6" fill="#9b9b9b"/>
<circle cx="639.8" cy="509.7" r="2.6" fill="#9b9b9b"/>
<circle cx="651.1" cy="505.0" r="2.6" fill="#9b9b9b"/>
<circle cx="654.1" cy="509.7" r="2.6" fill="#9b9b9b"/>
<circle cx="658.7" cy="506.8" r="2.6" fill="#9b9b9b"/>
<circle cx="664.0" cy="506.8" r="2.6" fill="#9b9b9b"/>
<circle cx="669.0" cy="503.9" r="2.6" fill="#9b9b9b"/>
<circle cx="669.8" cy="508.0" r="2.6" fill="#9b9b9b"/>
<circle cx="623.4" cy="517.7" r="2.6" fill="#9b9b9b"/>
<circle cx="627.8" cy="519.6" r="2.6" fill="#9b9b9b"/>
<circle cx="631.9" cy="517.3" r="2.6" fill="#9b9b9b"/>
<circle cx="635.5" cy="516.1" r="2.6" fill="#9b9b9b"/>
<circle cx="639.2" cy="517.0" r="2.6" fill="#9b9b9b"/>
<circle cx="636.8" cy="522.0" r="2.6" fill="#9b9b9b"/>
<circle cx="644.7" cy="519.4" r="2.6" fill="#9b9b9b"/>
<circle cx="647.0" cy="517.0" r="2.6" fill="#9b9b9b"/>
<circle cx="650.5" cy="518.8" r="2.6" fill="#9b9b9b"/>
<circle cx="658.1" cy="519.7" r="2.6" fill="#9b9b9b"/>
<circle cx="660.8" cy="520.8" r="2.6" fill="#9b9b9b"/>
<circle cx="664.6" cy="519.0" r="2.6" fill="#9b9b9b"/>
<circle cx="668.8" cy="517.3" r="2.6" fill="#9b9b9b"/>
<circle cx="670.4" cy="520.2" r="2.6" fill="#9b9b9b"/>
<circle cx="620.6" cy="527.6" r="2.6" fill="#9b9b9b"/>
<circle cx="630.4" cy="525.5" r="2.6" fill="#9b9b9b"/>
<circle cx="633.9" cy="526.0" r="2.6" fill="#9b9b9b"/>
<circle cx="650.8" cy="527.0" r="2.6" fill="#9b9b9b"/>
<circle cx="624.3" cy="521.1" r="2.6" fill="#9b9b9b"/>
<circle cx="631.3" cy="519.1" r="2.6" fill="#9b9b9b"/>
<circle cx="623.8" cy="529.9" r="2.6" fill="#9b9b9b"/>
<circle cx="628.4" cy="530.2" r="2.6" fill="#9b9b9b"/>
<circle cx="631.6" cy="533.1" r="2.6" fill="#9b9b9b"/>
<circle cx="641.8" cy="532.3" r="2.6" fill="#9b9b9b"/>
<circle cx="654.1" cy="530.0" r="2.6" fill="#9b9b9b"/>
<circle cx="633.6" cy="538.4" r="2.6" fill="#9b9b9b"/>
<circle cx="636.5" cy="537.8" r="2.6" fill="#9b9b9b"/>
<circle cx="670.6" cy="538.4" r="2.6" fill="#9b9b9b"/>
<circle cx="667.9" cy="543.2" r="2.6" fill="#9b9b9b"/>
<circle cx="632.3" cy="548.5" r="2.6" fill="#9b9b9b"/>
<circle cx="635.3" cy="554.7" r="2.6" fill="#9b9b9b"/>
<circle cx="667.1" cy="552.9" r="2.6" fill="#9b9b9b"/>
<circle cx="632.3" cy="567.5" r="2.6" fill="#9b9b9b"/>
<line x1="77.7" y1="538.2" x2="77.7" y2="548.2" stroke="#000" stroke-width="1.8"/>
<circle cx="77.7" cy="543.1" r="4.6" fill="#000"/>
<line x1="208" y1="530.9" x2="208" y2="549.6" stroke="#000" stroke-width="1.8"/>
<circle cx="208" cy="540.3" r="4.6" fill="#000"/>
<line x1="361.8" y1="524.8" x2="361.8" y2="541.8" stroke="#000" stroke-width="1.8"/>
<circle cx="361.8" cy="533.3" r="4.6" fill="#000"/>
<line x1="426.8" y1="524.1" x2="426.8" y2="546.1" stroke="#000" stroke-width="1.8"/>
<circle cx="426.8" cy="535" r="4.6" fill="#000"/>
<line x1="515.7" y1="509.1" x2="515.7" y2="523.5" stroke="#000" stroke-width="1.8"/>
<circle cx="515.7" cy="516.2" r="4.6" fill="#000"/>
<line x1="580.6" y1="497.6" x2="580.6" y2="516.7" stroke="#000" stroke-width="1.8"/>
<circle cx="580.6" cy="507" r="4.6" fill="#000"/>
<line x1="645.5" y1="499.5" x2="645.5" y2="509.7" stroke="#000" stroke-width="1.8"/>
<circle cx="645.5" cy="504.5" r="4.6" fill="#000"/>
<text x="0" y="0" transform="translate(77.7,490.6) scale(1,1.035)" font-size="13.2" text-anchor="middle" font-weight="normal" fill="#231f20" stroke="#231f20" stroke-width="0.25">A</text>
<text x="0" y="0" transform="translate(207.7,466.7) scale(1,1.035)" font-size="13.2" text-anchor="middle" font-weight="normal" fill="#231f20" stroke="#231f20" stroke-width="0.25">AB</text>
<text x="0" y="0" transform="translate(361.7,451.3) scale(1,1.035)" font-size="13.2" text-anchor="middle" font-weight="normal" fill="#231f20" stroke="#231f20" stroke-width="0.25">B</text>
<text x="0" y="0" transform="translate(426.8,451.3) scale(1,1.035)" font-size="13.2" text-anchor="middle" font-weight="normal" fill="#231f20" stroke="#231f20" stroke-width="0.25">B</text>
<text x="0" y="0" transform="translate(516,406.2) scale(1,1.035)" font-size="13.2" text-anchor="middle" font-weight="normal" fill="#231f20" stroke="#231f20" stroke-width="0.25">C</text>
<text x="0" y="0" transform="translate(581,406.2) scale(1,1.035)" font-size="13.2" text-anchor="middle" font-weight="normal" fill="#231f20" stroke="#231f20" stroke-width="0.25">C</text>
<text x="0" y="0" transform="translate(646,406.2) scale(1,1.035)" font-size="13.2" text-anchor="middle" font-weight="normal" fill="#231f20" stroke="#231f20" stroke-width="0.25">C</text>
<text x="0" y="0" transform="translate(77.9,611.6) scale(1,1.035)" font-size="13.2" text-anchor="middle" font-weight="normal" fill="#231f20" stroke="#231f20" stroke-width="0.25">49</text>
<text x="0" y="0" transform="translate(208,611.6) scale(1,1.035)" font-size="13.2" text-anchor="middle" font-weight="normal" fill="#231f20" stroke="#231f20" stroke-width="0.25">56</text>
<text x="0" y="0" transform="translate(361.6,611.6) scale(1,1.035)" font-size="13.2" text-anchor="middle" font-weight="normal" fill="#231f20" stroke="#231f20" stroke-width="0.25">49</text>
<text x="0" y="0" transform="translate(427,611.6) scale(1,1.035)" font-size="13.2" text-anchor="middle" font-weight="normal" fill="#231f20" stroke="#231f20" stroke-width="0.25">42</text>
<text x="0" y="0" transform="translate(516,611.6) scale(1,1.035)" font-size="13.2" text-anchor="middle" font-weight="normal" fill="#231f20" stroke="#231f20" stroke-width="0.25">50</text>
<text x="0" y="0" transform="translate(581,611.6) scale(1,1.035)" font-size="13.2" text-anchor="middle" font-weight="normal" fill="#231f20" stroke="#231f20" stroke-width="0.25">46</text>
<text x="0" y="0" transform="translate(646,611.6) scale(1,1.035)" font-size="13.2" text-anchor="middle" font-weight="normal" fill="#231f20" stroke="#231f20" stroke-width="0.25">90</text>
<g transform="translate(285,45) scale(0.09833)"><polyline points="135,125 205,168 192,208 255,215" fill="none" stroke="#c9a24b" stroke-width="24" stroke-linejoin="round" stroke-linecap="round"/><polyline points="525.8,125 455.8,168 468.8,208 405.8,215" fill="none" stroke="#c9a24b" stroke-width="24" stroke-linejoin="round" stroke-linecap="round"/><polyline points="35,270 130,274 160,298 250,300" fill="none" stroke="#c9a24b" stroke-width="24" stroke-linejoin="round" stroke-linecap="round"/><polyline points="625.8,270 530.8,274 500.8,298 410.8,300" fill="none" stroke="#c9a24b" stroke-width="24" stroke-linejoin="round" stroke-linecap="round"/><ellipse cx="325" cy="470" rx="86" ry="128" fill="#c9a24b"/><polygon points="280,345 378,345 379,400 364,417 377,434 362,451 375,468 360,485 373,502 358,519 371,536 356,553 369,570 345,598 325,603 305,598 285,570 298.3,553 283.6,536 296.9,519 282.2,502 295.5,485 280.8,468 294.1,451 279.4,434 292.7,417 278,400" fill="#6f4f44"/><path d="M 245,288 C 229.7,292.2 210.8,318.0 190,345 C 169.2,372.0 139.2,415.8 120,450 C 100.8,484.2 84.7,523.3 75,550 C 65.3,576.7 60.3,593.7 62,610 C 63.7,626.3 74.5,643.0 85,648 C 95.5,653.0 108.3,650.5 125,640 C 141.7,629.5 165.0,610.0 185,585 C 205.0,560.0 229.2,521.7 245,490 C 260.8,458.3 273.8,423.3 280,395 C 286.2,366.7 287.8,337.8 282,320 C 276.2,302.2 260.3,283.8 245,288 Z" fill="#a5a9b0"/><path d="M 245,288 C 229.7,292.2 210.8,318.0 190,345 C 169.2,372.0 139.2,415.8 120,450 C 100.8,484.2 84.7,523.3 75,550 C 65.3,576.7 60.3,593.7 62,610 C 63.7,626.3 74.5,643.0 85,648 C 95.5,653.0 108.3,650.5 125,640 C 141.7,629.5 165.0,610.0 185,585 C 205.0,560.0 229.2,521.7 245,490 C 260.8,458.3 273.8,423.3 280,395 C 286.2,366.7 287.8,337.8 282,320 C 276.2,302.2 260.3,283.8 245,288 Z" fill="#a5a9b0" transform="translate(660.8,0) scale(-1,1)"/><ellipse cx="332" cy="262" rx="96" ry="90" fill="#6f4f44"/><polygon points="285,300 378,300 375,370 288,370" fill="#6f4f44"/><polygon points="300,372 318,360 330,352 342,360 360,372 330,378" fill="#c9a24b"/><ellipse cx="331" cy="150" rx="77" ry="48" fill="#6f4f44"/><polygon points="257,146 292,140 319,148 328,160 324,178 307,186 296,198 253,212 246,186" fill="#c9a24b"/><polygon points="403.8,146 368.8,140 341.8,148 332.8,160 336.8,178 353.8,186 364.8,198 407.8,212 414.8,186" fill="#c9a24b"/><polygon points="296,104 366,104 368,118 350,122 331,114 312,122 294,118" fill="#c9a24b"/><ellipse cx="300" cy="82" rx="21" ry="26" fill="#5a3e35"/><ellipse cx="360" cy="82" rx="21" ry="26" fill="#5a3e35"/></g>
<g transform="translate(470,45) scale(0.10582)"><polyline points="105,150 150,185 160,200 150,215 205,230" fill="none" stroke="#d5cb8e" stroke-width="19" stroke-linejoin="round" stroke-linecap="round"/><polyline points="415,150 370,185 360,200 370,215 315,230" fill="none" stroke="#d5cb8e" stroke-width="19" stroke-linejoin="round" stroke-linecap="round"/><polyline points="35,275 120,280 140,295 205,300" fill="none" stroke="#d5cb8e" stroke-width="19" stroke-linejoin="round" stroke-linecap="round"/><polyline points="485,275 400,280 380,295 315,300" fill="none" stroke="#d5cb8e" stroke-width="19" stroke-linejoin="round" stroke-linecap="round"/><polyline points="200,362 150,372 128,395 142,417 185,410" fill="none" stroke="#d5cb8e" stroke-width="19" stroke-linejoin="round" stroke-linecap="round"/><polyline points="320,362 370,372 392,395 378,417 335,410" fill="none" stroke="#d5cb8e" stroke-width="19" stroke-linejoin="round" stroke-linecap="round"/><polyline points="330,470 350,500 355,525" fill="none" stroke="#d5cb8e" stroke-width="19" stroke-linejoin="round" stroke-linecap="round"/><path d="M 238,150 C 235.3,141.7 230.8,114.7 222,100 C 213.2,85.3 197.3,69.0 185,62 C 172.7,55.0 158.5,56.7 148,58 C 137.5,59.3 127.0,63.0 122,70 C 117.0,77.0 118.7,95.0 118,100 " fill="none" stroke="#554c49" stroke-width="31" stroke-linecap="round"/><path d="M 238,150 C 235.3,141.7 230.8,114.7 222,100 C 213.2,85.3 197.3,69.0 185,62 C 172.7,55.0 158.5,56.7 148,58 C 137.5,59.3 127.0,63.0 122,70 C 117.0,77.0 118.7,95.0 118,100 " fill="none" stroke="#554c49" stroke-width="31" stroke-linecap="round" transform="translate(520,0) scale(-1,1)"/><ellipse cx="262" cy="442" rx="68" ry="92" fill="#d9cf90"/><polygon points="198,375 212,352 262,346 312,352 326,375 300,382 280,385 270,405 262,412 254,405 244,385 224,382" fill="#554c49"/><polygon points="198,420 230,414 262,424 294,414 326,420 318,442 292,456 280,476 262,484 244,476 232,456 206,442" fill="#554c49"/><polygon points="210,487 240,492 262,500 284,492 314,487 310,500 262,512 214,500" fill="#554c49"/><path d="M 200,285 C 190.3,297.5 182.0,345.8 170,380 C 158.0,414.2 138.8,459.2 128,490 C 117.2,520.8 108.3,546.3 105,565 C 101.7,583.7 103.8,595.3 108,602 C 112.2,608.7 121.3,617.0 130,605 C 138.7,593.0 148.3,560.8 160,530 C 171.7,499.2 188.7,457.5 200,420 C 211.3,382.5 228.0,327.5 228,305 C 228.0,282.5 209.7,272.5 200,285 Z" fill="#a5a9b0"/><path d="M 200,285 C 190.3,297.5 182.0,345.8 170,380 C 158.0,414.2 138.8,459.2 128,490 C 117.2,520.8 108.3,546.3 105,565 C 101.7,583.7 103.8,595.3 108,602 C 112.2,608.7 121.3,617.0 130,605 C 138.7,593.0 148.3,560.8 160,530 C 171.7,499.2 188.7,457.5 200,420 C 211.3,382.5 228.0,327.5 228,305 C 228.0,282.5 209.7,272.5 200,285 Z" fill="#a5a9b0" transform="translate(520,0) scale(-1,1)"/><polygon points="218,278 306,278 300,352 224,352" fill="#554c49"/><polygon points="226,300 252,304 250,318 230,316" fill="#d9cf90"/><polygon points="294,300 268,304 270,318 290,316" fill="#d9cf90"/><polygon points="232,326 252,330 250,341 236,339" fill="#d9cf90"/><polygon points="288,326 268,330 270,341 284,339" fill="#d9cf90"/><ellipse cx="262" cy="238" rx="66" ry="52" fill="#554c49"/><polygon points="205,270 232,266 242,282 212,285" fill="#d9cf90"/><polygon points="315,270 288,266 278,282 308,285" fill="#d9cf90"/><ellipse cx="262" cy="170" rx="63" ry="31" fill="#554c49"/></g>
<g transform="translate(146.25,213.9) scale(0.09833)"><polyline points="135,125 205,168 192,208 255,215" fill="none" stroke="#c9a24b" stroke-width="24" stroke-linejoin="round" stroke-linecap="round"/><polyline points="525.8,125 455.8,168 468.8,208 405.8,215" fill="none" stroke="#c9a24b" stroke-width="24" stroke-linejoin="round" stroke-linecap="round"/><polyline points="35,270 130,274 160,298 250,300" fill="none" stroke="#c9a24b" stroke-width="24" stroke-linejoin="round" stroke-linecap="round"/><polyline points="625.8,270 530.8,274 500.8,298 410.8,300" fill="none" stroke="#c9a24b" stroke-width="24" stroke-linejoin="round" stroke-linecap="round"/><ellipse cx="325" cy="470" rx="86" ry="128" fill="#c9a24b"/><polygon points="280,345 378,345 379,400 364,417 377,434 362,451 375,468 360,485 373,502 358,519 371,536 356,553 369,570 345,598 325,603 305,598 285,570 298.3,553 283.6,536 296.9,519 282.2,502 295.5,485 280.8,468 294.1,451 279.4,434 292.7,417 278,400" fill="#6f4f44"/><path d="M 245,288 C 229.7,292.2 210.8,318.0 190,345 C 169.2,372.0 139.2,415.8 120,450 C 100.8,484.2 84.7,523.3 75,550 C 65.3,576.7 60.3,593.7 62,610 C 63.7,626.3 74.5,643.0 85,648 C 95.5,653.0 108.3,650.5 125,640 C 141.7,629.5 165.0,610.0 185,585 C 205.0,560.0 229.2,521.7 245,490 C 260.8,458.3 273.8,423.3 280,395 C 286.2,366.7 287.8,337.8 282,320 C 276.2,302.2 260.3,283.8 245,288 Z" fill="#a5a9b0"/><path d="M 245,288 C 229.7,292.2 210.8,318.0 190,345 C 169.2,372.0 139.2,415.8 120,450 C 100.8,484.2 84.7,523.3 75,550 C 65.3,576.7 60.3,593.7 62,610 C 63.7,626.3 74.5,643.0 85,648 C 95.5,653.0 108.3,650.5 125,640 C 141.7,629.5 165.0,610.0 185,585 C 205.0,560.0 229.2,521.7 245,490 C 260.8,458.3 273.8,423.3 280,395 C 286.2,366.7 287.8,337.8 282,320 C 276.2,302.2 260.3,283.8 245,288 Z" fill="#a5a9b0" transform="translate(660.8,0) scale(-1,1)"/><ellipse cx="332" cy="262" rx="96" ry="90" fill="#6f4f44"/><polygon points="285,300 378,300 375,370 288,370" fill="#6f4f44"/><polygon points="300,372 318,360 330,352 342,360 360,372 330,378" fill="#c9a24b"/><ellipse cx="331" cy="150" rx="77" ry="48" fill="#6f4f44"/><polygon points="257,146 292,140 319,148 328,160 324,178 307,186 296,198 253,212 246,186" fill="#c9a24b"/><polygon points="403.8,146 368.8,140 341.8,148 332.8,160 336.8,178 353.8,186 364.8,198 407.8,212 414.8,186" fill="#c9a24b"/><polygon points="296,104 366,104 368,118 350,122 331,114 312,122 294,118" fill="#c9a24b"/><ellipse cx="300" cy="82" rx="21" ry="26" fill="#5a3e35"/><ellipse cx="360" cy="82" rx="21" ry="26" fill="#5a3e35"/></g>
<g transform="translate(242.39999999999998,213.2) scale(0.10582)"><polyline points="105,150 150,185 160,200 150,215 205,230" fill="none" stroke="#d5cb8e" stroke-width="19" stroke-linejoin="round" stroke-linecap="round"/><polyline points="415,150 370,185 360,200 370,215 315,230" fill="none" stroke="#d5cb8e" stroke-width="19" stroke-linejoin="round" stroke-linecap="round"/><polyline points="35,275 120,280 140,295 205,300" fill="none" stroke="#d5cb8e" stroke-width="19" stroke-linejoin="round" stroke-linecap="round"/><polyline points="485,275 400,280 380,295 315,300" fill="none" stroke="#d5cb8e" stroke-width="19" stroke-linejoin="round" stroke-linecap="round"/><polyline points="200,362 150,372 128,395 142,417 185,410" fill="none" stroke="#d5cb8e" stroke-width="19" stroke-linejoin="round" stroke-linecap="round"/><polyline points="320,362 370,372 392,395 378,417 335,410" fill="none" stroke="#d5cb8e" stroke-width="19" stroke-linejoin="round" stroke-linecap="round"/><polyline points="330,470 350,500 355,525" fill="none" stroke="#d5cb8e" stroke-width="19" stroke-linejoin="round" stroke-linecap="round"/><path d="M 238,150 C 235.3,141.7 230.8,114.7 222,100 C 213.2,85.3 197.3,69.0 185,62 C 172.7,55.0 158.5,56.7 148,58 C 137.5,59.3 127.0,63.0 122,70 C 117.0,77.0 118.7,95.0 118,100 " fill="none" stroke="#554c49" stroke-width="31" stroke-linecap="round"/><path d="M 238,150 C 235.3,141.7 230.8,114.7 222,100 C 213.2,85.3 197.3,69.0 185,62 C 172.7,55.0 158.5,56.7 148,58 C 137.5,59.3 127.0,63.0 122,70 C 117.0,77.0 118.7,95.0 118,100 " fill="none" stroke="#554c49" stroke-width="31" stroke-linecap="round" transform="translate(520,0) scale(-1,1)"/><ellipse cx="262" cy="442" rx="68" ry="92" fill="#d9cf90"/><polygon points="198,375 212,352 262,346 312,352 326,375 300,382 280,385 270,405 262,412 254,405 244,385 224,382" fill="#554c49"/><polygon points="198,420 230,414 262,424 294,414 326,420 318,442 292,456 280,476 262,484 244,476 232,456 206,442" fill="#554c49"/><polygon points="210,487 240,492 262,500 284,492 314,487 310,500 262,512 214,500" fill="#554c49"/><path d="M 200,285 C 190.3,297.5 182.0,345.8 170,380 C 158.0,414.2 138.8,459.2 128,490 C 117.2,520.8 108.3,546.3 105,565 C 101.7,583.7 103.8,595.3 108,602 C 112.2,608.7 121.3,617.0 130,605 C 138.7,593.0 148.3,560.8 160,530 C 171.7,499.2 188.7,457.5 200,420 C 211.3,382.5 228.0,327.5 228,305 C 228.0,282.5 209.7,272.5 200,285 Z" fill="#a5a9b0"/><path d="M 200,285 C 190.3,297.5 182.0,345.8 170,380 C 158.0,414.2 138.8,459.2 128,490 C 117.2,520.8 108.3,546.3 105,565 C 101.7,583.7 103.8,595.3 108,602 C 112.2,608.7 121.3,617.0 130,605 C 138.7,593.0 148.3,560.8 160,530 C 171.7,499.2 188.7,457.5 200,420 C 211.3,382.5 228.0,327.5 228,305 C 228.0,282.5 209.7,272.5 200,285 Z" fill="#a5a9b0" transform="translate(520,0) scale(-1,1)"/><polygon points="218,278 306,278 300,352 224,352" fill="#554c49"/><polygon points="226,300 252,304 250,318 230,316" fill="#d9cf90"/><polygon points="294,300 268,304 270,318 290,316" fill="#d9cf90"/><polygon points="232,326 252,330 250,341 236,339" fill="#d9cf90"/><polygon points="288,326 268,330 270,341 284,339" fill="#d9cf90"/><ellipse cx="262" cy="238" rx="66" ry="52" fill="#554c49"/><polygon points="205,270 232,266 242,282 212,285" fill="#d9cf90"/><polygon points="315,270 288,266 278,282 308,285" fill="#d9cf90"/><ellipse cx="262" cy="170" rx="63" ry="31" fill="#554c49"/></g>
<g transform="translate(330,215) scale(0.09833)"><polyline points="150,130 205,175 190,210 250,215" fill="none" stroke="#d5cb8e" stroke-width="25" stroke-linejoin="round" stroke-linecap="round"/><polyline points="488,130 433,175 448,210 388,215" fill="none" stroke="#d5cb8e" stroke-width="25" stroke-linejoin="round" stroke-linecap="round"/><polyline points="65,265 150,272 175,293 250,295" fill="none" stroke="#d5cb8e" stroke-width="25" stroke-linejoin="round" stroke-linecap="round"/><polyline points="573,265 488,272 463,293 388,295" fill="none" stroke="#d5cb8e" stroke-width="25" stroke-linejoin="round" stroke-linecap="round"/><ellipse cx="319" cy="430" rx="76" ry="110" fill="#d9cf90"/><polygon points="250,330 388,330 392,395 350,392 335,408 319,412 303,408 288,392 246,395" fill="#6f4f44"/><polygon points="248,425 290,420 319,432 348,420 390,425 382,458 345,470 319,486 293,470 256,458" fill="#6f4f44"/><polygon points="258,496 300,500 319,506 338,500 380,496 370,518 319,526 268,518" fill="#6f4f44"/><path d="M 252,290 C 236.8,301.3 206.2,340.0 185,370 C 163.8,400.0 140.2,440.0 125,470 C 109.8,500.0 98.2,530.0 94,550 C 89.8,570.0 93.2,583.0 100,590 C 106.8,597.0 117.5,600.3 135,592 C 152.5,583.7 183.8,563.3 205,540 C 226.2,516.7 248.8,482.0 262,452 C 275.2,422.0 281.7,385.0 284,360 C 286.3,335.0 281.3,313.7 276,302 C 270.7,290.3 267.2,278.7 252,290 Z" fill="#a5a9b0"/><path d="M 252,290 C 236.8,301.3 206.2,340.0 185,370 C 163.8,400.0 140.2,440.0 125,470 C 109.8,500.0 98.2,530.0 94,550 C 89.8,570.0 93.2,583.0 100,590 C 106.8,597.0 117.5,600.3 135,592 C 152.5,583.7 183.8,563.3 205,540 C 226.2,516.7 248.8,482.0 262,452 C 275.2,422.0 281.7,385.0 284,360 C 286.3,335.0 281.3,313.7 276,302 C 270.7,290.3 267.2,278.7 252,290 Z" fill="#a5a9b0" transform="translate(638,0) scale(-1,1)"/><ellipse cx="319" cy="252" rx="82" ry="62" fill="#6f4f44"/><polygon points="262,300 376,300 370,340 268,340" fill="#6f4f44"/><polygon points="262,268 300,262 304,284 268,292" fill="#d9cf90"/><polygon points="376,268 338,262 334,284 370,292" fill="#d9cf90"/><polygon points="275,322 305,318 308,332 280,336" fill="#d9cf90"/><polygon points="363,322 333,318 330,332 358,336" fill="#d9cf90"/><ellipse cx="319" cy="160" rx="68" ry="44" fill="#6f4f44"/><ellipse cx="292" cy="100" rx="17" ry="21" fill="#5a3e35"/><ellipse cx="346" cy="100" rx="17" ry="21" fill="#5a3e35"/><polygon points="285,112 353,112 345,130 293,130" fill="#6f4f44"/></g>
<g transform="translate(420,210) scale(0.11344)"><polyline points="120,150 175,190 165,230 225,240" fill="none" stroke="#d5cb8e" stroke-width="20" stroke-linejoin="round" stroke-linecap="round"/><polyline points="460,150 405,190 415,230 355,240" fill="none" stroke="#d5cb8e" stroke-width="20" stroke-linejoin="round" stroke-linecap="round"/><polyline points="40,290 130,295 150,312 215,312" fill="none" stroke="#d5cb8e" stroke-width="20" stroke-linejoin="round" stroke-linecap="round"/><polyline points="540,290 450,295 430,312 365,312" fill="none" stroke="#d5cb8e" stroke-width="20" stroke-linejoin="round" stroke-linecap="round"/><polyline points="205,390 160,400 145,425 160,445 200,440" fill="none" stroke="#d5cb8e" stroke-width="20" stroke-linejoin="round" stroke-linecap="round"/><polyline points="375,390 420,400 435,425 420,445 380,440" fill="none" stroke="#d5cb8e" stroke-width="20" stroke-linejoin="round" stroke-linecap="round"/><path d="M 265,150 C 261.7,142.5 255.8,120.0 245,105 C 234.2,90.0 214.2,69.2 200,60 C 185.8,50.8 170.8,48.7 160,50 C 149.2,51.3 138.7,59.7 135,68 C 131.3,76.3 137.5,94.7 138,100 " fill="none" stroke="#554c49" stroke-width="34" stroke-linecap="round"/><path d="M 265,150 C 261.7,142.5 255.8,120.0 245,105 C 234.2,90.0 214.2,69.2 200,60 C 185.8,50.8 170.8,48.7 160,50 C 149.2,51.3 138.7,59.7 135,68 C 131.3,76.3 137.5,94.7 138,100 " fill="none" stroke="#554c49" stroke-width="34" stroke-linecap="round" transform="translate(580,0) scale(-1,1)"/><ellipse cx="287" cy="468" rx="86" ry="104" fill="#d9cf90"/><polygon points="218,395 240,372 287,364 334,372 356,395 329,390 314.6,405 328.2,420 313.8,435 327.4,450 313,465 326.6,480 312.2,495 325.8,510 311.4,525 325,540 305,565 287,570 269,565 255,540 268.6,525 254.2,510 267.8,495 253.4,480 267,465 252.6,450 266.2,435 251.8,420 265.4,405 251,390" fill="#554c49"/><path d="M 218,300 C 209.2,311.7 203.3,346.7 192,380 C 180.7,413.3 162.0,463.3 150,500 C 138.0,536.7 123.7,576.3 120,600 C 116.3,623.7 122.2,635.3 128,642 C 133.8,648.7 145.5,657.0 155,640 C 164.5,623.0 173.8,576.7 185,540 C 196.2,503.3 212.0,458.3 222,420 C 232.0,381.7 245.7,330.0 245,310 C 244.3,290.0 226.8,288.3 218,300 Z" fill="#a5a9b0"/><path d="M 218,300 C 209.2,311.7 203.3,346.7 192,380 C 180.7,413.3 162.0,463.3 150,500 C 138.0,536.7 123.7,576.3 120,600 C 116.3,623.7 122.2,635.3 128,642 C 133.8,648.7 145.5,657.0 155,640 C 164.5,623.0 173.8,576.7 185,540 C 196.2,503.3 212.0,458.3 222,420 C 232.0,381.7 245.7,330.0 245,310 C 244.3,290.0 226.8,288.3 218,300 Z" fill="#a5a9b0" transform="translate(580,0) scale(-1,1)"/><polygon points="248,300 332,300 328,372 252,372" fill="#554c49"/><ellipse cx="290" cy="255" rx="76" ry="66" fill="#554c49"/><ellipse cx="290" cy="168" rx="72" ry="34" fill="#554c49"/><polygon points="258,132 322,132 326,146 306,150 290,142 274,150 254,146" fill="#d9cf90"/><polygon points="222,186 256,178 284,182 286,194 274,204 254,216 236,230 224,222" fill="#d9cf90"/><polygon points="358,186 324,178 296,182 294,194 306,204 326,216 344,230 356,222" fill="#d9cf90"/><polygon points="270,330 290,326 310,330 306,344 274,344" fill="#d9cf90"/></g>
<g transform="translate(515,215) scale(0.09833)"><polyline points="135,150 190,185 190,225 240,230" fill="none" stroke="#d1bd6e" stroke-width="21" stroke-linejoin="round" stroke-linecap="round"/><polyline points="475,150 420,185 420,225 370,230" fill="none" stroke="#d1bd6e" stroke-width="21" stroke-linejoin="round" stroke-linecap="round"/><polyline points="60,285 140,290 165,310 235,310" fill="none" stroke="#d1bd6e" stroke-width="21" stroke-linejoin="round" stroke-linecap="round"/><polyline points="550,285 470,290 445,310 375,310" fill="none" stroke="#d1bd6e" stroke-width="21" stroke-linejoin="round" stroke-linecap="round"/><polyline points="225,390 175,400 158,425 172,447 215,440" fill="none" stroke="#d1bd6e" stroke-width="21" stroke-linejoin="round" stroke-linecap="round"/><polyline points="385,390 435,400 452,425 438,447 395,440" fill="none" stroke="#d1bd6e" stroke-width="21" stroke-linejoin="round" stroke-linecap="round"/><path d="M 280,145 C 277.0,137.5 272.0,114.5 262,100 C 252.0,85.5 233.7,67.2 220,58 C 206.3,48.8 191.3,44.7 180,45 C 168.7,45.3 156.7,50.8 152,60 C 147.3,69.2 152.0,93.3 152,100 " fill="none" stroke="#5e4239" stroke-width="28" stroke-linecap="round"/><path d="M 280,145 C 277.0,137.5 272.0,114.5 262,100 C 252.0,85.5 233.7,67.2 220,58 C 206.3,48.8 191.3,44.7 180,45 C 168.7,45.3 156.7,50.8 152,60 C 147.3,69.2 152.0,93.3 152,100 " fill="none" stroke="#5e4239" stroke-width="28" stroke-linecap="round" transform="translate(610,0) scale(-1,1)"/><ellipse cx="305" cy="465" rx="78" ry="100" fill="#d1bd6e"/><polygon points="240,390 262,370 305,363 348,370 370,390 336,390 323.7,405 335.4,420 323.1,435 334.8,450 322.5,465 334.2,480 321.9,495 333.6,510 321.3,525 333,540 320,560 305,565 290,560 279,540 290.7,525 278.4,510 290.1,495 277.8,480 289.5,465 277.2,450 288.9,435 276.6,420 288.3,405 276,390" fill="#6f4f44"/><path d="M 238,300 C 228.2,313.3 217.7,356.7 205,390 C 192.3,423.3 173.5,465.8 162,500 C 150.5,534.2 138.7,572.7 136,595 C 133.3,617.3 139.0,628.2 146,634 C 153.0,639.8 167.3,647.3 178,630 C 188.7,612.7 198.8,565.0 210,530 C 221.2,495.0 236.0,456.7 245,420 C 254.0,383.3 265.2,330.0 264,310 C 262.8,290.0 247.8,286.7 238,300 Z" fill="#a5a9b0"/><path d="M 238,300 C 228.2,313.3 217.7,356.7 205,390 C 192.3,423.3 173.5,465.8 162,500 C 150.5,534.2 138.7,572.7 136,595 C 133.3,617.3 139.0,628.2 146,634 C 153.0,639.8 167.3,647.3 178,630 C 188.7,612.7 198.8,565.0 210,530 C 221.2,495.0 236.0,456.7 245,420 C 254.0,383.3 265.2,330.0 264,310 C 262.8,290.0 247.8,286.7 238,300 Z" fill="#a5a9b0" transform="translate(610,0) scale(-1,1)"/><polygon points="262,300 348,300 344,372 266,372" fill="#6f4f44"/><polygon points="275,325 295,330 292,340 278,338" fill="#d1bd6e"/><polygon points="335,325 315,330 318,340 332,338" fill="#d1bd6e"/><ellipse cx="307" cy="248" rx="78" ry="58" fill="#6f4f44"/><ellipse cx="305" cy="168" rx="70" ry="30" fill="#6f4f44"/></g>
<g transform="translate(605,215) scale(0.09833)"><polyline points="140,130 200,170 200,215 250,215" fill="none" stroke="#d5cb8e" stroke-width="22" stroke-linejoin="round" stroke-linecap="round"/><polyline points="504,130 444,170 444,215 394,215" fill="none" stroke="#d5cb8e" stroke-width="22" stroke-linejoin="round" stroke-linecap="round"/><polyline points="55,270 150,285 175,300 245,300" fill="none" stroke="#d5cb8e" stroke-width="22" stroke-linejoin="round" stroke-linecap="round"/><polyline points="589,270 494,285 469,300 399,300" fill="none" stroke="#d5cb8e" stroke-width="22" stroke-linejoin="round" stroke-linecap="round"/><polyline points="230,400 180,405 165,430" fill="none" stroke="#d5cb8e" stroke-width="22" stroke-linejoin="round" stroke-linecap="round"/><polyline points="414,400 464,405 479,430" fill="none" stroke="#d5cb8e" stroke-width="22" stroke-linejoin="round" stroke-linecap="round"/><path d="M 290,130 C 285.8,121.7 274.2,91.7 265,80 C 255.8,68.3 243.8,63.0 235,60 C 226.2,57.0 217.0,58.7 212,62 C 207.0,65.3 206.2,77.0 205,80 " fill="none" stroke="#554c49" stroke-width="32" stroke-linecap="round"/><path d="M 290,130 C 285.8,121.7 274.2,91.7 265,80 C 255.8,68.3 243.8,63.0 235,60 C 226.2,57.0 217.0,58.7 212,62 C 207.0,65.3 206.2,77.0 205,80 " fill="none" stroke="#554c49" stroke-width="32" stroke-linecap="round" transform="translate(644,0) scale(-1,1)"/><ellipse cx="320" cy="478" rx="86" ry="104" fill="#d9cf90"/><polygon points="240,400 265,378 320,370 375,378 400,400 362,400 347.7,415.5 361.4,431 347.1,446.5 360.8,462 346.5,477.5 360.2,493 345.9,508.5 359.6,524 345.3,539.5 359,555 340,578 322,582 304,578 286,555 299.7,539.5 285.4,524 299.1,508.5 284.8,493 298.5,477.5 284.2,462 297.9,446.5 283.6,431 297.3,415.5 283,400" fill="#554c49"/><path d="M 252,282 C 238.7,292.0 214.5,328.7 195,360 C 175.5,391.3 150.5,435.0 135,470 C 119.5,505.0 106.5,543.7 102,570 C 97.5,596.3 102.5,617.7 108,628 C 113.5,638.3 120.5,641.7 135,632 C 149.5,622.3 175.8,597.0 195,570 C 214.2,543.0 235.8,503.3 250,470 C 264.2,436.7 275.8,398.3 280,370 C 284.2,341.7 279.7,314.7 275,300 C 270.3,285.3 265.3,272.0 252,282 Z" fill="#a5a9b0"/><path d="M 252,282 C 238.7,292.0 214.5,328.7 195,360 C 175.5,391.3 150.5,435.0 135,470 C 119.5,505.0 106.5,543.7 102,570 C 97.5,596.3 102.5,617.7 108,628 C 113.5,638.3 120.5,641.7 135,632 C 149.5,622.3 175.8,597.0 195,570 C 214.2,543.0 235.8,503.3 250,470 C 264.2,436.7 275.8,398.3 280,370 C 284.2,341.7 279.7,314.7 275,300 C 270.3,285.3 265.3,272.0 252,282 Z" fill="#a5a9b0" transform="translate(644,0) scale(-1,1)"/><polygon points="268,320 376,320 370,390 274,390" fill="#554c49"/><ellipse cx="280" cy="352" rx="6" ry="5" fill="#d9cf90"/><ellipse cx="300" cy="352" rx="6" ry="5" fill="#d9cf90"/><ellipse cx="320" cy="352" rx="6" ry="5" fill="#d9cf90"/><ellipse cx="340" cy="352" rx="6" ry="5" fill="#d9cf90"/><ellipse cx="360" cy="352" rx="6" ry="5" fill="#d9cf90"/><ellipse cx="322" cy="258" rx="86" ry="82" fill="#554c49"/><ellipse cx="320" cy="150" rx="76" ry="40" fill="#554c49"/><polygon points="262,186 290,182 286,200 266,200" fill="#d9cf90"/><polygon points="382,186 354,182 358,200 378,200" fill="#d9cf90"/></g>
</svg>
</body></html>
